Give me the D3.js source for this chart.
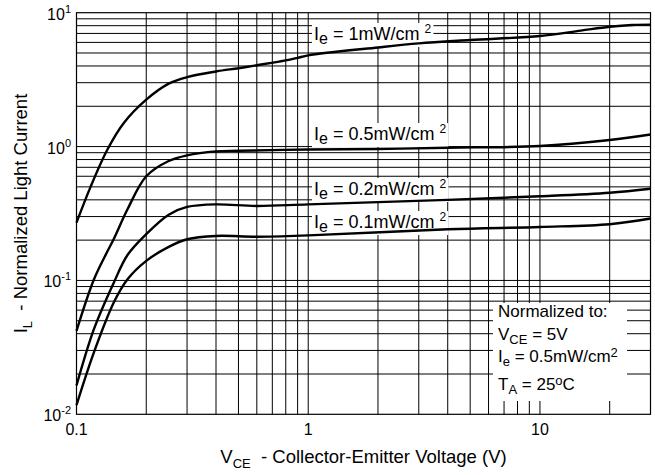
<!DOCTYPE html>
<html>
<head>
<meta charset="utf-8">
<script src="https://cdn.jsdelivr.net/npm/d3@7"></script>
<style>
  body { margin: 0; background: #fff; }
  svg { display: block; }
  text { font-family: "Liberation Sans", Arial, Helvetica, sans-serif; fill: #000; white-space: pre; }
</style>
</head>
<body>
<svg id="chart" width="655" height="475"></svg>
<script>
// Collector-emitter voltage (V) sample points and normalized light current per irradiance
const vce1 = [0.1, 0.115, 0.136, 0.16, 0.2, 0.25, 0.3, 0.4, 0.5, 0.6, 0.8, 0.9, 1, 2, 3, 5, 10, 15, 20, 25, 30];
const il1  = [0.27, 0.5, 0.95, 1.5, 2.24, 2.95, 3.3, 3.64, 3.85, 4.05, 4.4, 4.6, 4.8, 5.5, 5.9, 6.25, 6.7, 7.35, 7.85, 8.1, 8.15];

const vce2 = [0.1, 0.119, 0.136, 0.145, 0.166, 0.2, 0.25, 0.3, 0.4, 0.5, 1, 2, 4, 10, 20, 30];
const il2  = [0.042, 0.102, 0.165, 0.205, 0.34, 0.6, 0.78, 0.86, 0.92, 0.93, 0.95, 0.96, 0.98, 1.01, 1.12, 1.23];

const vce3 = [0.1, 0.119, 0.145, 0.166, 0.2, 0.25, 0.3, 0.4, 0.6, 1, 4, 10, 20, 30];
const il3  = [0.0164, 0.0434, 0.0966, 0.155, 0.222, 0.31, 0.354, 0.37, 0.36, 0.37, 0.40, 0.425, 0.452, 0.484];

const vce4 = [0.1, 0.119, 0.145, 0.166, 0.2, 0.25, 0.3, 0.4, 0.6, 1, 4, 10, 20, 30];
const il4  = [0.0117, 0.0291, 0.0686, 0.102, 0.14, 0.178, 0.203, 0.215, 0.212, 0.217, 0.241, 0.251, 0.263, 0.29];

const irradianceLabels = ["1mW/cm", "0.5mW/cm", "0.2mW/cm", "0.1mW/cm"];

const xTickValues = [0.1, 1, 10];
const xTickLabels = ["0.1", "1", "10"];
const yTickValues = [10, 1, 0.1, 0.01];
const yTickExponents = ["1", "0", "-1", "-2"];

const noteLines = [
  [{t: "Normalized to:"}],
  [{t: "V"}, {t: "CE", sub: true}, {t: " = 5V"}],
  [{t: "I"}, {t: "e", sub: true}, {t: " = 0.5mW/cm"}, {t: "2", sup: true}],
  [{t: "T"}, {t: "A", sub: true}, {t: " = 25"}, {t: "o", sup: true}, {t: "C"}]
];
const noteBaselines = [317, 340, 362, 390];

const series = [
  {x: vce1, y: il1, label: irradianceLabels[0], lx: 314, ly: 40},
  {x: vce2, y: il2, label: irradianceLabels[1], lx: 314, ly: 140},
  {x: vce3, y: il3, label: irradianceLabels[2], lx: 314, ly: 195},
  {x: vce4, y: il4, label: irradianceLabels[3], lx: 314, ly: 228}
];

const svg = d3.select("#chart");
const plotLeft = 76.5, plotRight = 650.5, plotTop = 12.7, plotBottom = 414.3;

const x = d3.scaleLog().domain([0.1, 30]).range([plotLeft, plotRight]);
const y = d3.scaleLog().domain([0.01, 10]).range([plotBottom, plotTop]);

// grid
const grid = svg.append("g").attr("stroke", "#000").attr("stroke-width", 1);
x.ticks().filter(v => v > 0.1 && v < 30).forEach(v => {
  grid.append("line").attr("x1", x(v)).attr("x2", x(v)).attr("y1", plotTop).attr("y2", plotBottom);
});
y.ticks().filter(v => v > 0.01 && v < 10).forEach(v => {
  grid.append("line").attr("x1", plotLeft).attr("x2", plotRight).attr("y1", y(v)).attr("y2", y(v));
});

// white backings sit above the grid, curves and text above them
const labelLayer = svg.append("g");
const curveLayer = svg.append("g");
const textLayer = svg.append("g");

series.forEach(s => {
  const t = textLayer.append("text").attr("x", s.lx).attr("y", s.ly).attr("font-size", 18);
  t.append("tspan").text("I");
  t.append("tspan").attr("dy", 4).attr("font-size", 16).text("e");
  t.append("tspan").attr("dy", -4).text(" = " + s.label + " ");
  t.append("tspan").attr("dy", -7).attr("font-size", 12).text("2");
  const b = t.node().getBBox();
  labelLayer.append("rect")
    .attr("x", b.x - 2).attr("y", b.y + 1)
    .attr("width", b.width + 4).attr("height", b.height - 1)
    .attr("fill", "#fff");
});

// curves
const line = d3.line().x(d => x(d[0])).y(d => y(d[1])).curve(d3.curveCatmullRom.alpha(0.5));
series.forEach(s => {
  curveLayer.append("path")
    .datum(s.x.map((v, i) => [v, s.y[i]]))
    .attr("d", line)
    .attr("fill", "none")
    .attr("stroke", "#000")
    .attr("stroke-width", 2.4)
    .attr("stroke-linejoin", "round");
});

// normalization note
const note = textLayer.append("g");
noteLines.forEach((parts, i) => {
  const t = note.append("text").attr("x", 498).attr("y", noteBaselines[i]).attr("font-size", 17);
  let shift = 0;
  parts.forEach(p => {
    const target = p.sub ? 4 : p.sup ? -5 : 0;
    t.append("tspan").attr("dy", target - shift)
      .attr("font-size", p.sub || p.sup ? 13 : 17).text(p.t);
    shift = target;
  });
});
const nb = note.node().getBBox();
labelLayer.append("rect")
  .attr("x", 493).attr("y", nb.y + 1)
  .attr("width", 134).attr("height", 401 - nb.y - 1)
  .attr("fill", "#fff");

// frame
svg.append("rect").attr("x", plotLeft).attr("y", plotTop)
  .attr("width", plotRight - plotLeft).attr("height", plotBottom - plotTop)
  .attr("fill", "none").attr("stroke", "#000").attr("stroke-width", 1.2);

// x tick labels
xTickValues.forEach((v, i) => {
  svg.append("text").attr("x", x(v)).attr("y", 435).attr("text-anchor", "middle")
    .attr("font-size", 16).text(xTickLabels[i]);
});

// y tick labels (powers of ten)
yTickValues.forEach((v, i) => {
  const t = svg.append("text").attr("x", 71).attr("y", y(v) + 7).attr("text-anchor", "end").attr("font-size", 16);
  t.append("tspan").text("10");
  t.append("tspan").attr("dy", -7).attr("font-size", 11).text(yTickExponents[i]);
});

// axis titles
const xt = svg.append("text").attr("x", (plotLeft + plotRight) / 2).attr("y", 463)
  .attr("text-anchor", "middle").attr("font-size", 18.5);
xt.append("tspan").text("V");
xt.append("tspan").attr("dy", 5).attr("font-size", 13).text("CE");
xt.append("tspan").attr("dy", -5).text("  - Collector-Emitter Voltage (V)");

const yt = svg.append("text")
  .attr("transform", `translate(27,${(plotTop + plotBottom) / 2}) rotate(-90)`)
  .attr("text-anchor", "middle").attr("font-size", 18.5);
yt.append("tspan").text("I");
yt.append("tspan").attr("dy", 5).attr("font-size", 13).text("L");
yt.append("tspan").attr("dy", -5).text("  - Normalized Light Current");
</script>
</body>
</html>
